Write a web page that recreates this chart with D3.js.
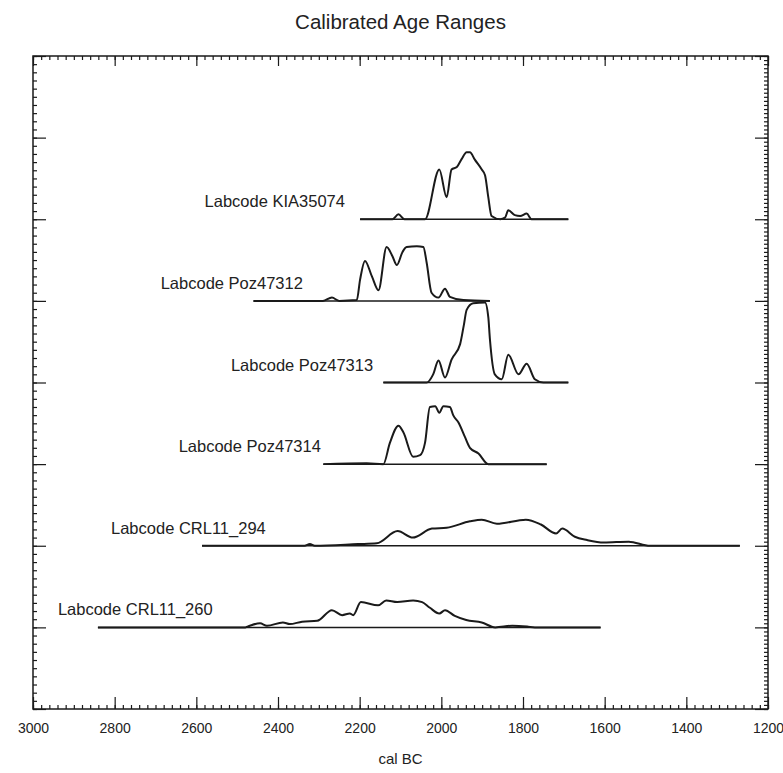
<!DOCTYPE html>
<html>
<head>
<meta charset="utf-8">
<script src="https://cdn.jsdelivr.net/npm/d3@7/dist/d3.min.js"></script>
<style>
  html, body { margin: 0; padding: 0; background: #fff; }
  svg { display: block; }
  text { font-family: "Liberation Sans", Arial, sans-serif; fill: #222; }
</style>
</head>
<body>
<svg id="chart" width="783" height="773"></svg>
<script>
// ---- data (years cal BC, relative probability in % of one row height) ----
const samples = ["Labcode KIA35074", "Labcode Poz47312", "Labcode Poz47313",
                 "Labcode Poz47314", "Labcode CRL11_294", "Labcode CRL11_260"];
const rowIndex = [6, 5, 4, 3, 2, 1];
const labelEndYear = [2236, 2339, 2167, 2295, 2430, 2560];

const kia35074 = [[2199,0],[2120,0],[2105,6],[2090,0],[2040,0],[2005,61],[1987,27],[1975,61],[1962,64],[1950,74],[1938,82],[1930,82],[1918,73],[1901,61],[1893,54],[1885,27],[1877,4],[1856,0],[1844,2],[1836,11],[1820,5],[1807,4],[1791,7],[1779,0],[1689,0]];
const poz47312 = [[2460,0],[2290,0],[2268,4],[2250,0],[2207,1],[2199,26],[2187,49],[2170,30],[2154,13],[2134,66],[2120,55],[2109,44],[2095,60],[2085,66],[2060,67],[2044,66],[2036,47],[2024,10],[2007,4],[1991,15],[1979,5],[1946,1],[1881,0]];
const poz47313 = [[2142,0],[2036,0],[2020,10],[2007,27],[1991,6],[1975,28],[1954,47],[1945,70],[1938,89],[1922,97],[1893,98],[1885,80],[1881,53],[1869,10],[1852,4],[1836,34],[1811,10],[1791,23],[1771,4],[1750,0],[1689,0]];
const poz47314 = [[2289,0],[2183,1],[2142,0],[2126,26],[2105,47],[2093,39],[2069,9],[2052,11],[2040,26],[2028,70],[2015,71],[2005,63],[1995,71],[1979,70],[1971,60],[1958,51],[1942,33],[1930,20],[1909,13],[1885,0],[1742,0]];
const crl11_294 = [[2586,0],[2335,0],[2322,2],[2310,0],[2204,2],[2158,3],[2107,18],[2070,10],[2023,21],[1987,22],[1930,30],[1901,32],[1864,27],[1793,32],[1756,26],[1719,15],[1704,21],[1673,11],[1643,7],[1602,4],[1541,5],[1489,0],[1269,0]];
const crl11_260 = [[2841,0],[2480,0],[2469,2],[2444,5],[2427,2],[2388,6],[2371,4],[2341,7],[2304,8],[2268,21],[2243,15],[2224,17],[2216,15],[2197,31],[2155,27],[2135,33],[2108,31],[2069,33],[2047,31],[2028,24],[2005,17],[1991,21],[1967,14],[1939,9],[1901,6],[1868,0],[1826,2],[1790,1],[1771,0],[1610,0]];
const series = [kia35074, poz47312, poz47313, poz47314, crl11_294, crl11_260];

const xTickValues = [3000, 2800, 2600, 2400, 2200, 2000, 1800, 1600, 1400, 1200];
const title = "Calibrated Age Ranges";
const xTitle = "cal BC";

// ---- layout ----
const svg = d3.select("#chart");
const mL = 33, mR = 768, mT = 56, mB = 709;
const x = d3.scaleLinear().domain([3000, 1200]).range([mL, mR]);
const y = d3.scaleLinear().domain([0, 8]).range([mB, mT]);
const ink = "#1a1a1a";

// frame
svg.append("rect").attr("x", mL).attr("y", mT)
  .attr("width", mR - mL).attr("height", mB - mT)
  .attr("fill", "none").attr("stroke", ink).attr("stroke-width", 1.5);

// axes (ticks pointing inward)
const xMinor = d3.range(3000, 1199, -20);
const yMinorL = d3.range(0, 8.001, 0.1);
const yMinorR = d3.range(0, 8.001, 0.05);
const yMajor = d3.range(0, 9, 1);

function axisGroup(axis, tx, ty) {
  const g = svg.append("g").attr("transform", `translate(${tx},${ty})`).call(axis);
  g.select(".domain").remove();
  g.selectAll("line").attr("stroke", ink).attr("stroke-width", 1.2);
  return g;
}
// bottom
axisGroup(d3.axisTop(x).tickValues(xMinor).tickSize(4).tickFormat(""), 0, mB);
axisGroup(d3.axisTop(x).tickValues(xTickValues).tickSize(12).tickFormat(""), 0, mB);
const bl = svg.append("g").attr("transform", `translate(0,${mB})`)
  .call(d3.axisBottom(x).tickValues(xTickValues).tickSize(0).tickPadding(14).tickFormat(d3.format("d")));
bl.select(".domain").remove();
bl.selectAll("text").attr("font-size", 14).attr("font-family", "Liberation Sans, Arial, sans-serif").attr("fill", "#222");
// top
axisGroup(d3.axisBottom(x).tickValues(xMinor).tickSize(4).tickFormat(""), 0, mT);
axisGroup(d3.axisBottom(x).tickValues(xTickValues).tickSize(10).tickFormat(""), 0, mT);
// left
axisGroup(d3.axisRight(y).tickValues(yMinorL).tickSize(4).tickFormat(""), mL, 0);
axisGroup(d3.axisRight(y).tickValues(yMajor).tickSize(13).tickFormat(""), mL, 0);
// right
axisGroup(d3.axisLeft(y).tickValues(yMinorR).tickSize(4).tickFormat(""), mR, 0);
axisGroup(d3.axisLeft(y).tickValues(yMajor).tickSize(13).tickFormat(""), mR, 0);

// distributions
const plot = svg.append("g");
series.forEach((data, i) => {
  const row = rowIndex[i];
  const first = data[0][0], last = data[data.length - 1][0];
  plot.append("line")
    .attr("x1", x(first)).attr("x2", x(last))
    .attr("y1", y(row)).attr("y2", y(row))
    .attr("stroke", ink).attr("stroke-width", 1.5);
  const line = d3.line().x(d => x(d[0])).y(d => y(row + d[1] / 100))
    .curve(d3.curveMonotoneX);
  plot.append("path").datum(data).attr("d", line)
    .attr("fill", "none").attr("stroke", ink).attr("stroke-width", 2)
    .attr("stroke-linejoin", "round");
  plot.append("text")
    .attr("x", x(labelEndYear[i])).attr("y", y(row) - 12)
    .attr("text-anchor", "end").attr("font-size", 16.5)
    .text(samples[i]);
});

// titles
svg.append("text").attr("x", (mL + mR) / 2).attr("y", 29)
  .attr("text-anchor", "middle").attr("font-size", 20.5).attr("fill", "#333").text(title);
svg.append("text").attr("x", (mL + mR) / 2).attr("y", 764)
  .attr("text-anchor", "middle").attr("font-size", 15).text(xTitle);
</script>
</body>
</html>
